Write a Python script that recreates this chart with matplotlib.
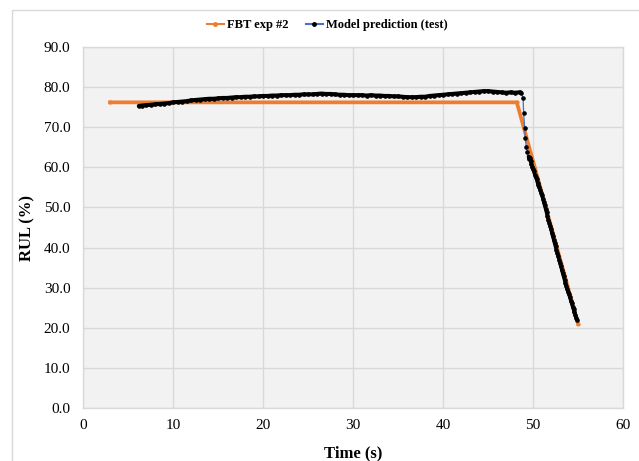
import matplotlib
matplotlib.use("Agg")
import matplotlib.pyplot as plt
from matplotlib.patches import Rectangle
from matplotlib.lines import Line2D

# FBT experiment #2 (reference RUL profile)
fbt_time = [3.0, 48.2, 55.0]
fbt_rul = [76.2, 76.2, 21.0]

# Model prediction on the test run
pred_time = [
    6.2, 6.5, 7.0, 7.5, 8.0, 8.5, 9.0, 9.5, 10.0, 10.5, 11.0, 11.5, 12.0, 12.5,
    13.0, 13.5, 14.0, 14.5, 15.0, 15.5, 16.0, 16.5, 17.0, 17.5, 18.0, 18.5,
    19.0, 19.5, 20.0, 20.5, 21.0, 21.5, 22.0, 22.5, 23.0, 23.5, 24.0, 24.5,
    25.0, 25.5, 26.0, 26.5, 27.0, 27.5, 28.0, 28.5, 29.0, 29.5, 30.0, 30.5,
    31.0, 31.5, 32.0, 32.5, 33.0, 33.5, 34.0, 34.5, 35.0, 35.5, 36.0, 36.5,
    37.0, 37.5, 38.0, 38.5, 39.0, 39.5, 40.0, 40.5, 41.0, 41.5, 42.0, 42.5,
    43.0, 43.5, 44.0, 44.5, 45.0, 45.5, 46.0, 46.5, 47.0, 47.5, 48.0, 48.5,
    48.7, 48.9, 48.96, 49.07, 49.15, 49.25, 49.35, 49.5, 49.6, 49.7, 49.75,
    49.8, 49.9, 50.0, 50.1, 50.2, 50.3, 50.4, 50.5, 50.6, 50.7, 50.8, 50.9,
    51.0, 51.1, 51.2, 51.3, 51.4, 51.5, 51.6, 51.7, 51.8, 51.9, 52.0, 52.1,
    52.2, 52.3, 52.4, 52.5, 52.6, 52.7, 52.8, 52.9, 53.0, 53.1, 53.2, 53.3,
    53.4, 53.5, 53.6, 53.7, 53.8, 53.9, 54.0, 54.1, 54.2, 54.3, 54.4, 54.5,
    54.6, 54.7, 54.8, 54.9,
]
pred_rul = [
    75.3, 75.4, 75.5, 75.6, 75.7, 75.8, 75.9, 76.0, 76.2, 76.3, 76.4, 76.5,
    76.7, 76.8, 76.9, 77.0, 77.1, 77.1, 77.2, 77.3, 77.3, 77.4, 77.5, 77.5,
    77.6, 77.6, 77.7, 77.7, 77.8, 77.8, 77.9, 77.9, 78.0, 78.0, 78.0, 78.1,
    78.1, 78.2, 78.2, 78.2, 78.3, 78.4, 78.3, 78.3, 78.2, 78.1, 78.1, 78.0,
    78.0, 78.0, 78.0, 77.9, 78.0, 77.9, 77.9, 77.8, 77.8, 77.7, 77.7, 77.6,
    77.5, 77.5, 77.5, 77.6, 77.6, 77.8, 77.9, 78.0, 78.1, 78.2, 78.3, 78.4,
    78.5, 78.6, 78.7, 78.8, 78.9, 79.0, 79.0, 78.9, 78.8, 78.7, 78.6, 78.7,
    78.6, 78.7,
    78.5, 77.2, 73.5, 69.7, 67.2, 65.1, 63.9, 62.7, 62.0, 62.4, 61.5,
    60.8, 60.2, 59.5, 59.0, 58.2, 57.6, 57.0, 56.2, 55.6, 55.0, 54.4, 53.7,
    53.0, 52.2, 51.3, 50.5, 49.7, 48.8, 47.9, 46.9, 46.2, 45.4, 44.6, 43.7,
    42.8, 42.0, 41.1, 40.3, 39.4, 38.6, 37.8, 37.0, 36.2, 35.3, 34.5, 33.6,
    32.8, 32.0, 31.1, 30.4, 29.7, 29.0, 28.3, 27.6, 26.8, 26.1, 25.3, 24.6,
    23.9, 23.2, 22.5, 21.9,
]

x_ticks = [0, 10, 20, 30, 40, 50, 60]
y_ticks = [0, 10, 20, 30, 40, 50, 60, 70, 80, 90]

ORANGE = "#ED7D31"
BLUE = "#4472C4"

plt.rcParams["font.family"] = ["Liberation Serif", "DejaVu Serif"]

W, H = 639, 461
fig = plt.figure(figsize=(W / 100, H / 100), dpi=100)
fig.patch.set_facecolor("white")

# outer chart frame
fig.patches.append(Rectangle((12 / W, -0.05), 1.2, 1.05 - 10 / H,
                             transform=fig.transFigure, fill=False,
                             edgecolor="#d9d9d9", linewidth=1.0))

ax = fig.add_axes([83 / W, 1 - 408 / H, 540 / W, 361 / H])
ax.set_facecolor("#f2f2f2")
for s in ax.spines.values():
    s.set_color("#d9d9d9")
    s.set_linewidth(1.0)

ax.set_xlim(0, 60)
ax.set_ylim(0, 90)
ax.set_xticks(x_ticks)
ax.set_yticks(y_ticks)
ax.set_xticklabels([str(v) for v in x_ticks])
ax.set_yticklabels([f"{v:.1f}" for v in y_ticks])
ax.tick_params(length=0, labelsize=11, colors="black")
ax.tick_params(axis="x", pad=8)
ax.tick_params(axis="y", pad=9)
ax.grid(True, color="#d9d9d9", linewidth=1.0)
ax.set_axisbelow(True)

ax.plot(fbt_time, fbt_rul, color=ORANGE, linewidth=2.7,
        marker="o", markersize=2, zorder=3)
ax.plot(pred_time, pred_rul, color=BLUE, linewidth=0.9,
        marker="o", markersize=2.3, markerfacecolor="black",
        markeredgecolor="black", zorder=4)

# densely sampled stretches, where the markers merge into a solid trace
i_drop = pred_time.index(48.7)
i_dense = pred_time.index(49.5)
ax.plot(pred_time[:i_drop + 1], pred_rul[:i_drop + 1], color="black",
        linewidth=2.9, solid_capstyle="round", zorder=5)
ax.plot(pred_time[i_dense:], pred_rul[i_dense:], color="black",
        linewidth=2.6, solid_capstyle="round", zorder=5)

ax.set_xlabel("Time (s)", fontsize=12, fontweight="bold")
ax.set_ylabel("RUL (%)", fontsize=12, fontweight="bold")
ax.xaxis.set_label_coords(0.5, (408 - 445) / 361)
ax.yaxis.set_label_coords((35 - 83) / 540, 0.5)

handles = [
    Line2D([], [], color=ORANGE, linewidth=1.5, marker="o", markersize=2.5,
           markerfacecolor=ORANGE, markeredgecolor=ORANGE),
    Line2D([], [], color=BLUE, linewidth=1.5, marker="o", markersize=2.5,
           markerfacecolor="black", markeredgecolor="black"),
]
fig.legend(handles, ["FBT exp #2", "Model prediction (test)"],
           loc="center", bbox_to_anchor=(327 / W, 1 - 25 / H), ncol=2,
           frameon=False, prop={"weight": "bold", "size": 9},
           handlelength=1.4, handletextpad=0.2, columnspacing=1.4)

fig.savefig("out.png", dpi=100)
